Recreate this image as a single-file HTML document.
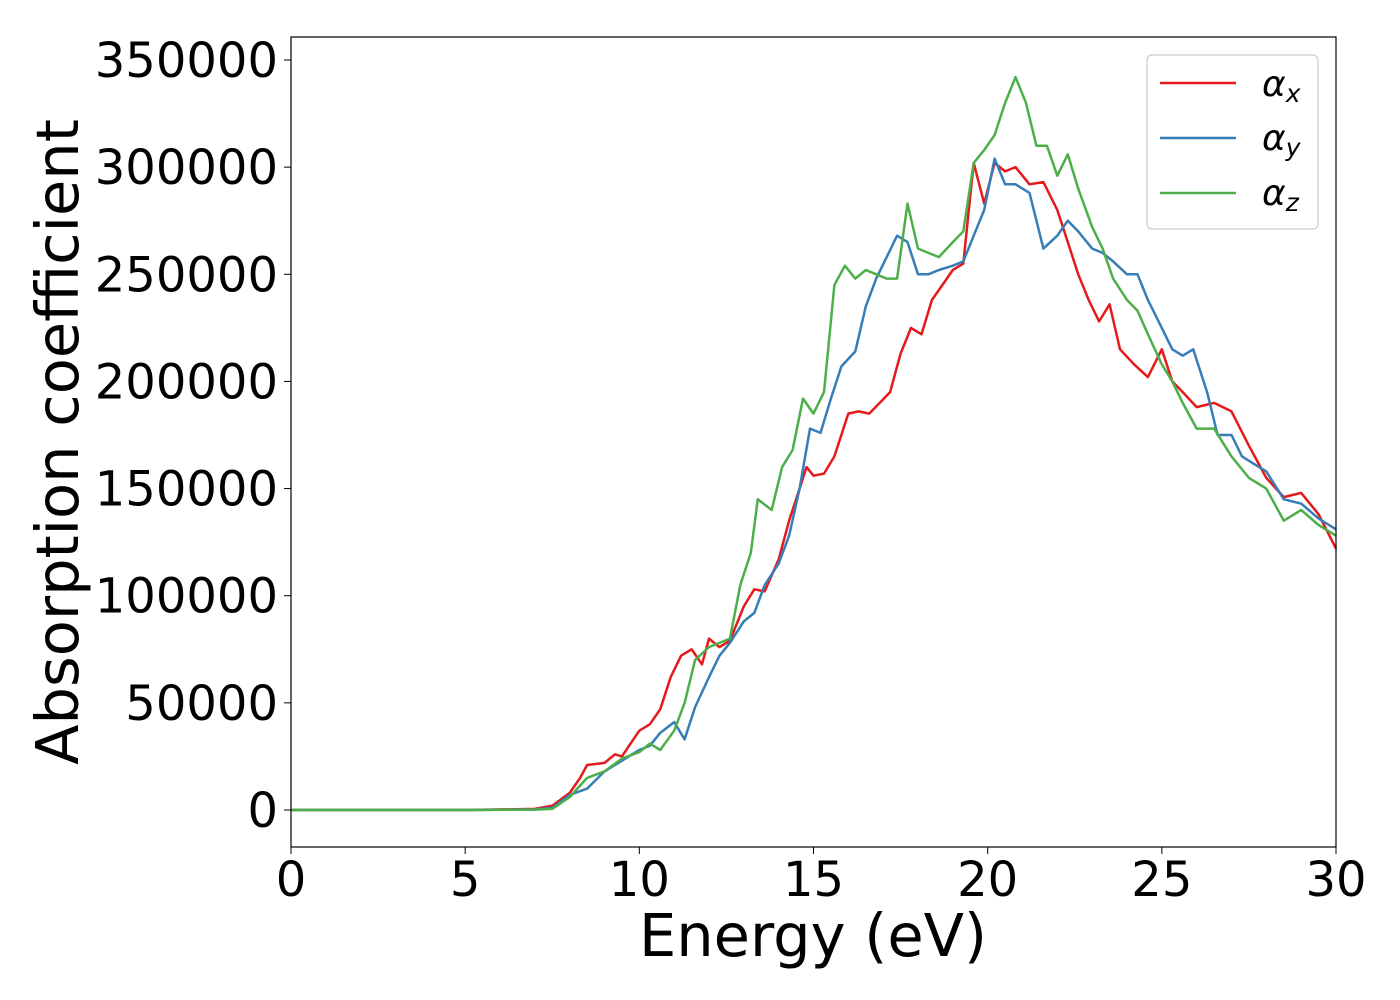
<!DOCTYPE html>
<html><head><meta charset="utf-8"><style>
html,body{margin:0;padding:0;background:#fff;}
svg{display:block;font-family:"DejaVu Sans","Liberation Sans",sans-serif;}
</style></head><body>
<svg id="chart" width="1400" height="1000" viewBox="0 0 1400 1000" xmlns="http://www.w3.org/2000/svg">
<rect x="0" y="0" width="1400" height="1000" fill="#fff"/>
<g id="plot"></g>
<rect x="291" y="37" width="1045" height="810" fill="none" stroke="#000" stroke-width="1.2"/>
<g id="xticks"></g>
<g id="yticks"></g>
<text x="813" y="956" font-size="59" text-anchor="middle">Energy (eV)</text>
<text transform="translate(78,442) rotate(-90)" font-size="59" text-anchor="middle">Absorption coefficient</text>
<g>
<rect x="1147" y="55" width="171" height="174" rx="5" fill="#fff" stroke="#ccc" stroke-width="1.2"/>
<g><line x1="1160" y1="83" x2="1236" y2="83" stroke="#e41a1c" stroke-width="2.5"/><text x="1262" y="96" font-size="36" font-style="italic">α<tspan font-size="25" dy="6">x</tspan></text></g>
<g><line x1="1160" y1="138" x2="1236" y2="138" stroke="#377eb8" stroke-width="2.5"/><text x="1262" y="150" font-size="36" font-style="italic">α<tspan font-size="25" dy="6">y</tspan></text></g>
<g><line x1="1160" y1="193" x2="1236" y2="193" stroke="#4daf4a" stroke-width="2.5"/><text x="1262" y="205" font-size="36" font-style="italic">α<tspan font-size="25" dy="6">z</tspan></text></g>
</g>
</svg>
<script>
const xTicks=[0,5,10,15,20,25,30];
const yTicks=[0,50000,100000,150000,200000,250000,300000,350000];
const xE=[0,5,7,7.5,8,8.3,8.5,9,9.3,9.5,10,10.3,10.6,10.9,11.2,11.5,11.8,12,12.3,12.6,13,13.3,13.6,14,14.3,14.6,14.8,15,15.3,15.6,16,16.3,16.6,16.9,17.2,17.5,17.8,18.1,18.4,18.7,19,19.3,19.6,19.9,20.2,20.5,20.8,21.2,21.6,22,22.3,22.6,22.9,23.2,23.5,23.8,24.2,24.6,25,25.3,25.6,26,26.5,27,27.5,28,28.5,29,29.5,30];
const xV=[0,0,500,2000,8000,15000,21000,22000,26000,25000,37000,40000,47000,62000,72000,75000,68000,80000,76000,79000,95000,103000,102000,117000,135000,150000,160000,156000,157000,165000,185000,186000,185000,190000,195000,213000,225000,222000,238000,245000,252000,255000,302000,283000,302000,298000,300000,292000,293000,280000,265000,250000,238000,228000,236000,215000,208000,202000,215000,200000,195000,188000,190000,186000,170000,155000,146000,148000,138000,122000];
const yE=[0,5,7,7.5,8,8.5,9,9.5,10,10.3,10.6,11,11.3,11.6,12,12.3,12.6,13,13.3,13.6,14,14.3,14.6,14.9,15.2,15.5,15.8,16.2,16.5,16.8,17.1,17.4,17.7,18,18.3,18.6,19,19.3,19.6,19.9,20.2,20.5,20.8,21.2,21.6,22,22.3,22.6,23,23.3,23.6,24,24.3,24.6,25,25.3,25.6,25.9,26.3,26.6,27,27.3,27.6,28,28.5,29,29.5,30];
const yV=[0,0,300,1000,7000,10000,18000,23000,28000,30000,36000,41000,33000,48000,62000,72000,78000,88000,92000,105000,115000,128000,150000,178000,176000,192000,207000,214000,235000,248000,258000,268000,265000,250000,250000,252000,254000,256000,268000,280000,304000,292000,292000,288000,262000,268000,275000,270000,262000,260000,256000,250000,250000,238000,225000,215000,212000,215000,195000,175000,175000,165000,162000,158000,145000,143000,136000,131000];
const zE=[0,5,7,7.5,8,8.5,9,9.5,10,10.3,10.6,11,11.3,11.6,12,12.3,12.6,12.9,13.2,13.4,13.8,14.1,14.4,14.7,15,15.3,15.6,15.9,16.2,16.5,16.8,17.1,17.4,17.7,18,18.3,18.6,19,19.3,19.6,19.9,20.2,20.5,20.8,21.1,21.4,21.7,22,22.3,22.6,23,23.3,23.6,24,24.3,24.6,25,25.3,25.6,26,26.5,27,27.5,28,28.5,29,29.5,30];
const zV=[0,0,200,500,6000,15000,18000,24000,27000,31000,28000,37000,50000,70000,76000,78000,80000,105000,120000,145000,140000,160000,168000,192000,185000,195000,245000,254000,248000,252000,250000,248000,248000,283000,262000,260000,258000,265000,270000,302000,308000,315000,330000,342000,330000,310000,310000,296000,306000,290000,272000,262000,248000,238000,233000,222000,208000,200000,190000,178000,178000,165000,155000,150000,135000,140000,133000,128000];
const NS='http://www.w3.org/2000/svg';
function sx(e){return 291+e/30*1045;}
function sy(v){return 810-v/350000*750;}
const xg=document.getElementById('xticks'),yg=document.getElementById('yticks'),pg=document.getElementById('plot');
xTicks.forEach(t=>{
 const l=document.createElementNS(NS,'line');
 
 
 l.setAttribute('x1',sx(t));l.setAttribute('x2',sx(t));l.setAttribute('y1',847);l.setAttribute('y2',854);l.setAttribute('stroke','#000');
 xg.appendChild(l);
 const tx=document.createElementNS(NS,'text');
 
 
 tx.setAttribute('x',sx(t));tx.setAttribute('y',896);tx.setAttribute('font-size','48');tx.setAttribute('text-anchor','middle');
 tx.textContent=t;xg.appendChild(tx);
});
yTicks.forEach(t=>{
 const l=document.createElementNS(NS,'line');
 
 
 l.setAttribute('x1',284);l.setAttribute('x2',291);l.setAttribute('y1',sy(t));l.setAttribute('y2',sy(t));l.setAttribute('stroke','#000');
 yg.appendChild(l);
 const tx=document.createElementNS(NS,'text');
 
 
 tx.setAttribute('x',278);tx.setAttribute('y',sy(t)+17);tx.setAttribute('font-size','48');tx.setAttribute('text-anchor','end');
 tx.textContent=t;yg.appendChild(tx);
});
function draw(E,V,color,name){
 const p=document.createElementNS(NS,'polyline');
 
 
 p.setAttribute('points',E.map((e,i)=>sx(e).toFixed(1)+','+sy(V[i]).toFixed(1)).join(' '));
 p.setAttribute('fill','none');p.setAttribute('stroke',color);p.setAttribute('stroke-width','2.5');p.setAttribute('stroke-linejoin','round');
 pg.appendChild(p);
}
draw(xE,xV,'#e41a1c','series-alpha-x');
draw(yE,yV,'#377eb8','series-alpha-y');
draw(zE,zV,'#4daf4a','series-alpha-z');
</script>
</body></html>
